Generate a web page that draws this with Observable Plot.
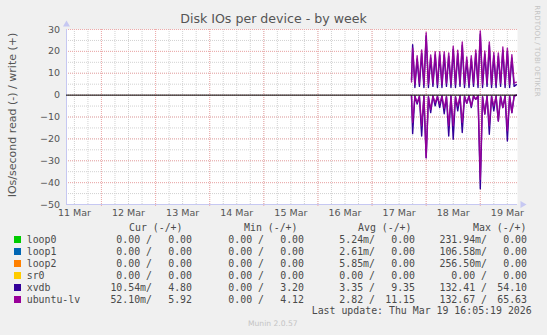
<!DOCTYPE html>
<html>
<head>
<meta charset="utf-8">
<script src="https://cdn.jsdelivr.net/npm/d3@7"></script>
<script src="https://cdn.jsdelivr.net/npm/@observablehq/plot@0.6"></script>
<style>
  html, body { margin: 0; padding: 0; background: #f0f0f0; }
  #wrap { position: relative; width: 547px; height: 335px; background: #f0f0f0; overflow: hidden; font-family: "DejaVu Sans", sans-serif; }
  #wrap svg { position: absolute; left: 0; top: 0; }
  .t { position: absolute; white-space: pre; line-height: 12px; height: 12px; }
  .mono { font-family: "DejaVu Sans Mono", monospace; font-size: 9.9px; color: #4a4a4a; }
  .sq { position: absolute; width: 7px; height: 7px; }
</style>
</head>
<body>
<div id="wrap"></div>
<script>
// ---------- data ----------
const times = [
  "2026-03-17T17:30Z","2026-03-17T18:00Z","2026-03-17T19:00Z","2026-03-17T20:00Z","2026-03-17T21:00Z","2026-03-17T22:00Z","2026-03-17T23:00Z",
  "2026-03-18T00:00Z","2026-03-18T01:00Z","2026-03-18T02:00Z","2026-03-18T03:00Z","2026-03-18T04:00Z","2026-03-18T05:00Z",
  "2026-03-18T06:00Z","2026-03-18T07:00Z","2026-03-18T08:00Z","2026-03-18T09:00Z","2026-03-18T10:00Z","2026-03-18T11:00Z",
  "2026-03-18T12:00Z","2026-03-18T13:00Z","2026-03-18T14:00Z","2026-03-18T15:00Z","2026-03-18T16:00Z","2026-03-18T17:00Z",
  "2026-03-18T18:00Z","2026-03-18T19:00Z","2026-03-18T20:00Z","2026-03-18T21:00Z","2026-03-18T22:00Z","2026-03-18T23:00Z",
  "2026-03-19T00:00Z","2026-03-19T01:00Z","2026-03-19T02:00Z","2026-03-19T03:00Z","2026-03-19T04:00Z","2026-03-19T05:00Z",
  "2026-03-19T06:00Z","2026-03-19T07:00Z","2026-03-19T08:00Z","2026-03-19T09:00Z","2026-03-19T10:00Z","2026-03-19T11:00Z",
  "2026-03-19T12:00Z","2026-03-19T13:00Z","2026-03-19T14:00Z","2026-03-19T15:00Z","2026-03-19T16:00Z"
];
// write (+) per second
const ubuntuWrite = [6,
  21.5,5, 18,5.5, 20.7,5, 28.5,5, 18.4,5.5, 19.9,5, 19.9,5, 19.9,5.5, 19.3,5, 22.4,5, 20.5,5.5, 24.3,5,
  17.5,5, 18,5.5, 20.6,5, 29.3,5, 20.2,5.5, 24.3,5, 19.5,5, 19.3,5.5, 22,5, 21.5,5, 18.5,5.5,
  5.9];
const xvdbWrite = [7,
  23,3.5, 16.5,4, 19.2,3.5, 27,3.5, 17,4, 18.4,3.5, 18.4,3.5, 18.4,4, 17.8,3.5, 21,3.5, 19,4, 22.8,3.5,
  16,3.5, 16.5,4, 19.1,3.5, 27.8,3.5, 18.7,4, 22.8,3.5, 18,3.5, 17.8,4, 20.5,3.5, 20,3.5, 17,4,
  4.8];
// read (-) per second, drawn below zero
const ubuntuRead = [-0.5,
  -12.5,-0.5, -3.5,-0.6, -14,-0.5, -28.6,-0.8, -6.5,-0.5, -3.5,-0.6, -4,-0.5, -6,-0.7, -14,-0.5, -14,-0.8, -5,-0.5, -12.5,-0.6,
  -3.7,-0.5, -5,-0.5, -1.9,-0.4, -38.5,-0.8, -8.5,-0.5, -14,-0.6, -5,-0.5, -11.8,-0.7, -5.7,-0.5, -16.3,-0.6, -8,-0.5,
  -0.1];
const xvdbRead = [-0.4,
  -17.6,-0.4, -4.1,-0.5, -18.7,-0.4, -28.6,-0.7, -8,-0.4, -4.9,-0.5, -5.7,-0.4, -8.5,-0.6, -18.7,-0.4, -20.2,-0.7, -7.2,-0.4, -17.1,-0.5,
  -3.7,-0.4, -5.7,-0.4, -1.9,-0.3, -42.8,-0.7, -8.7,-0.4, -17.9,-0.5, -7.2,-0.4, -11.8,-0.6, -5.7,-0.4, -21,-0.5, -8,-0.4,
  -0.01];

const xDomain = ["2026-03-11T08:30Z", "2026-03-19T16:30Z"];
const yDomain = [-50, 30];
const yTicks = [30, 20, 10, 0, -10, -20, -30, -40, -50];
const xLabels = ["11 Mar","12 Mar","13 Mar","14 Mar","15 Mar","16 Mar","17 Mar","18 Mar","19 Mar"];
const xLabelTimes = ["2026-03-11T12:00Z","2026-03-12T12:00Z","2026-03-13T12:00Z","2026-03-14T12:00Z","2026-03-15T12:00Z",
  "2026-03-16T12:00Z","2026-03-17T12:00Z","2026-03-18T12:00Z","2026-03-19T12:00Z"];

const devices = ["loop0","loop1","loop2","sr0","xvdb","ubuntu-lv"];
const colors = ["#00cc00","#0066b3","#ff8000","#ffcc00","#330099","#990099"];
const curRead = ["0.00 /","0.00 /","0.00 /","0.00 /","10.54m/","52.10m/"];
const curWrite = ["0.00","0.00","0.00","0.00","4.80","5.92"];
const minRead = ["0.00 /","0.00 /","0.00 /","0.00 /","0.00 /","0.00 /"];
const minWrite = ["0.00","0.00","0.00","0.00","3.20","4.12"];
const avgRead = ["5.24m/","2.61m/","5.85m/","0.00 /","3.35 /","2.82 /"];
const avgWrite = ["0.00","0.00","0.00","0.00","9.35","11.15"];
const maxRead = ["231.94m/","106.58m/","256.50m/","0.00 /","132.41 /","132.67 /"];
const maxWrite = ["0.00","0.00","0.00","0.00","54.10","65.63"];
const headers = ["Cur (-/+)","Min (-/+)","Avg (-/+)","Max (-/+)"];

// ---------- chart ----------
const table = times.map((t, i) => ({
  time: new Date(t), uw: ubuntuWrite[i], xw: xvdbWrite[i], ur: ubuntuRead[i], xr: xvdbRead[i]
}));
const x0 = new Date(xDomain[0]), x1 = new Date(xDomain[1]);
const labelDates = xLabelTimes.map(t => new Date(t));
const minorX = d3.utcHour.every(6).range(x0, x1);
const majorX = d3.utcDay.range(x0, x1);
const minorY = d3.range(yDomain[0], yDomain[1] + 1, 5);
const majorY = d3.range(yDomain[0], yDomain[1] + 1, 10);
const axisCol = "#c6c8f2";
const majorCol = "#efaaaa";

const chart = Plot.plot({
  width: 547, height: 222,
  marginLeft: 66, marginRight: 30, marginTop: 29, marginBottom: 18,
  style: { background: "transparent", fontFamily: "DejaVu Sans, sans-serif", fontSize: "9.5px", color: "#555" },
  x: { type: "utc", domain: [x0, x1] },
  y: { domain: yDomain },
  marks: [
    Plot.frame({ fill: "white", stroke: null }),
    Plot.gridX(minorX, { stroke: "#d2d2d2", strokeOpacity: 1, strokeDasharray: "1,1" }),
    Plot.gridY(minorY, { stroke: "#d2d2d2", strokeOpacity: 1, strokeDasharray: "1,1" }),
    Plot.gridX(majorX, { stroke: majorCol, strokeOpacity: 1, strokeDasharray: "1,1" }),
    Plot.gridY(majorY, { stroke: majorCol, strokeOpacity: 1, strokeDasharray: "1,1" }),
    Plot.axisX(majorX, { tickSize: 2, stroke: majorCol, tickFormat: () => "", label: null }),
    Plot.axisX(labelDates, { tickSize: 0, tickPadding: 4.5, label: null, fill: "#555",
      tickFormat: d => xLabels[labelDates.findIndex(t => +t === +d)] }),
    Plot.axisY(yTicks, { tickSize: 0, tickPadding: 6.5, label: null, fill: "#555" }),
    Plot.ruleY([yDomain[0]], { stroke: axisCol }),
    Plot.ruleX([x0], { stroke: axisCol }),
    Plot.dot([{ t: x1, v: yDomain[0] }], { x: "t", y: "v", symbol: "triangle", r: 2.6, rotate: 90, dx: 5, fill: axisCol, stroke: null }),
    Plot.dot([{ t: x0, v: yDomain[1] }], { x: "t", y: "v", symbol: "triangle", r: 2.6, dy: -5, fill: axisCol, stroke: null }),
    Plot.line(table, { x: "time", y: "xw", stroke: colors[4], strokeWidth: 1.4 }),
    Plot.line(table, { x: "time", y: "xr", stroke: colors[4], strokeWidth: 1.4 }),
    Plot.line(table, { x: "time", y: "uw", stroke: colors[5], strokeWidth: 1.4, strokeOpacity: 0.9 }),
    Plot.line(table, { x: "time", y: "ur", stroke: colors[5], strokeWidth: 1.4, strokeOpacity: 0.9 }),
    Plot.ruleY([0], { stroke: "#000", strokeWidth: 1 })
  ]
});

const wrap = document.getElementById("wrap");
wrap.appendChild(chart);

function addText(txt, opts) {
  const s = document.createElement("div");
  s.className = "t " + (opts.cls || "");
  s.textContent = txt;
  if (opts.left != null) s.style.left = opts.left + "px";
  if (opts.right != null) { s.style.right = (547 - opts.right) + "px"; s.style.textAlign = "right"; }
  s.style.top = (opts.cy - 6) + "px";
  if (opts.style) Object.assign(s.style, opts.style);
  wrap.appendChild(s);
  return s;
}

// title
addText("Disk IOs per device - by week", { left: 0, cy: 19.5,
  style: { width: "547px", textAlign: "center", fontSize: "12.6px", color: "#555", lineHeight: "14px", height: "14px", top: "12px" } });

// y axis title
addText("IOs/second read (-) / write (+)", { left: 0, cy: 0,
  style: { fontSize: "11px", color: "#555", lineHeight: "14px", height: "14px", width: "200px", textAlign: "center",
    left: (12.7 - 100) + "px", top: (115 - 7) + "px", transform: "rotate(-90deg)", transformOrigin: "50% 50%" } });

// rrdtool credit
addText("RRDTOOL / TOBI OETIKER", { left: 0, cy: 0,
  style: { fontSize: "7.1px", color: "#c4c4c4", lineHeight: "8px", height: "8px", width: "100px", textAlign: "center",
    left: (536.5 - 50) + "px", top: (51 - 4) + "px", transform: "rotate(90deg)", transformOrigin: "50% 50%" } });

// legend
const headerLeft = [129, 244, 358, 473];
headers.forEach((h, i) => addText(h, { cls: "mono", left: headerLeft[i], cy: 227.7 }));
const cols = [
  [curRead, 152], [curWrite, 192], [minRead, 264], [minWrite, 304],
  [avgRead, 375], [avgWrite, 415], [maxRead, 487], [maxWrite, 527]
];
devices.forEach((d, i) => {
  const cy = 239.7 + 12 * i;
  const sq = document.createElement("div");
  sq.className = "sq";
  sq.style.left = "13.5px";
  sq.style.top = (cy - 3.5) + "px";
  sq.style.background = colors[i];
  wrap.appendChild(sq);
  addText(d, { cls: "mono", left: 26.7, cy });
  cols.forEach(([arr, r]) => addText(arr[i], { cls: "mono", right: r, cy }));
});
addText("Last update: Thu Mar 19 16:05:19 2026", { cls: "mono", left: 311.7, cy: 311 });
addText("Munin 2.0.57", { left: 248, cy: 324, style: { fontSize: "7.6px", color: "#c4c4c4" } });
</script>
</body>
</html>
